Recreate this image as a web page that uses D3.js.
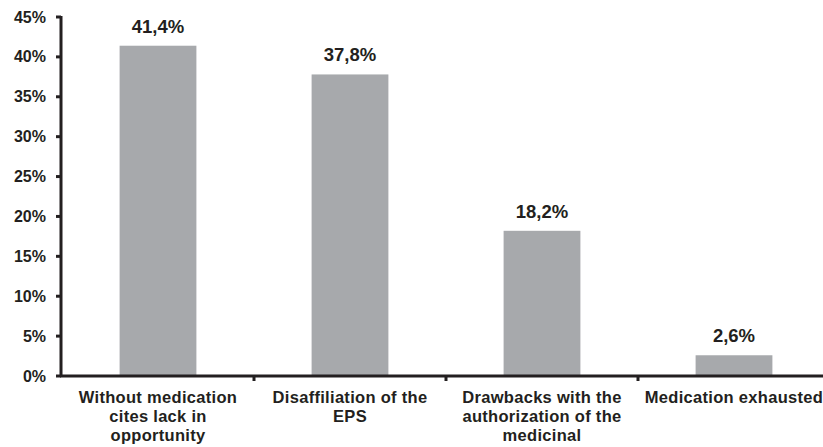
<!DOCTYPE html>
<meta charset="utf-8">
<style>
body { margin: 0; background: #fff; }
svg { display: block; }
svg text { font-family: "Liberation Sans", Arial, sans-serif; font-weight: bold; }
</style>
<svg width="823" height="447"></svg>
<script src="https://d3js.org/d3.v7.min.js"></script>
<script>

var categories = [
  ["Without medication", "cites lack in", "opportunity"],
  ["Disaffiliation of the", "EPS"],
  ["Drawbacks with the", "authorization of the", "medicinal"],
  ["Medication exhausted"]
];
var values = [41.4, 37.8, 18.2, 2.6];
var valueLabels = ["41,4%", "37,8%", "18,2%", "2,6%"];
var yTicks = [0, 5, 10, 15, 20, 25, 30, 35, 40, 45];

var ink = "#231f20",
    barColor = "#a7a9ac";

var svg = d3.select("svg");

var x0 = 62, bandW = 192;
var x = d3.scaleBand()
    .domain(d3.range(categories.length))
    .range([x0, x0 + bandW * categories.length])
    .paddingInner(0.6)
    .paddingOuter(0.3);

var y = d3.scaleLinear().domain([0, 45]).range([376, 17]);

// bars
svg.append("g").selectAll("rect")
    .data(values)
    .enter().append("rect")
    .attr("x", function(d, i) { return x(i); })
    .attr("width", x.bandwidth())
    .attr("y", function(d) { return y(d); })
    .attr("height", function(d) { return y(0) - y(d); })
    .attr("fill", barColor);

// value labels
svg.append("g").selectAll("text")
    .data(values)
    .enter().append("text")
    .attr("x", function(d, i) { return x(i) + x.bandwidth() / 2; })
    .attr("y", function(d) { return y(d) - 13; })
    .attr("text-anchor", "middle")
    .attr("font-size", 18.5)
    .attr("font-weight", "bold")
    .attr("fill", ink)
    .text(function(d, i) { return valueLabels[i]; });

// y axis
var yAxis = svg.append("g");
yAxis.append("line")
    .attr("x1", 61).attr("x2", 61)
    .attr("y1", y(45) - 1).attr("y2", y(0) + 1)
    .attr("stroke", ink).attr("stroke-width", 3);
yAxis.selectAll(".tick")
    .data(yTicks)
    .enter().append("line")
    .attr("x1", 56).attr("x2", 61)
    .attr("y1", function(d) { return y(d); })
    .attr("y2", function(d) { return y(d); })
    .attr("stroke", ink).attr("stroke-width", 3);
yAxis.selectAll("text")
    .data(yTicks)
    .enter().append("text")
    .attr("x", 46)
    .attr("y", function(d) { return y(d) + 5.5; })
    .attr("text-anchor", "end")
    .attr("font-size", 16)
    .attr("font-weight", "bold")
    .attr("fill", ink)
    .text(function(d) { return d + "%"; });

// x axis
var xAxis = svg.append("g");
xAxis.append("line")
    .attr("x1", 60).attr("x2", 823)
    .attr("y1", y(0)).attr("y2", y(0))
    .attr("stroke", ink).attr("stroke-width", 3);
xAxis.selectAll(".tick")
    .data(d3.range(1, categories.length + 1))
    .enter().append("line")
    .attr("x1", function(d) { return x0 + d * bandW; })
    .attr("x2", function(d) { return x0 + d * bandW; })
    .attr("y1", y(0)).attr("y2", y(0) + 5)
    .attr("stroke", ink).attr("stroke-width", 3);

var catText = xAxis.selectAll("text.cat")
    .data(categories)
    .enter().append("text")
    .attr("class", "cat")
    .attr("text-anchor", "middle")
    .attr("font-size", 16.5)
    .attr("font-weight", "bold")
    .attr("letter-spacing", 0.3)
    .attr("fill", ink);
catText.selectAll("tspan")
    .data(function(d, i) { return d.map(function(t) { return { t: t, i: i }; }); })
    .enter().append("tspan")
    .attr("x", function(d) { return x(d.i) + x.bandwidth() / 2; })
    .attr("y", function(d, j) { return 403 + j * 19; })
    .text(function(d) { return d.t; });

</script>
